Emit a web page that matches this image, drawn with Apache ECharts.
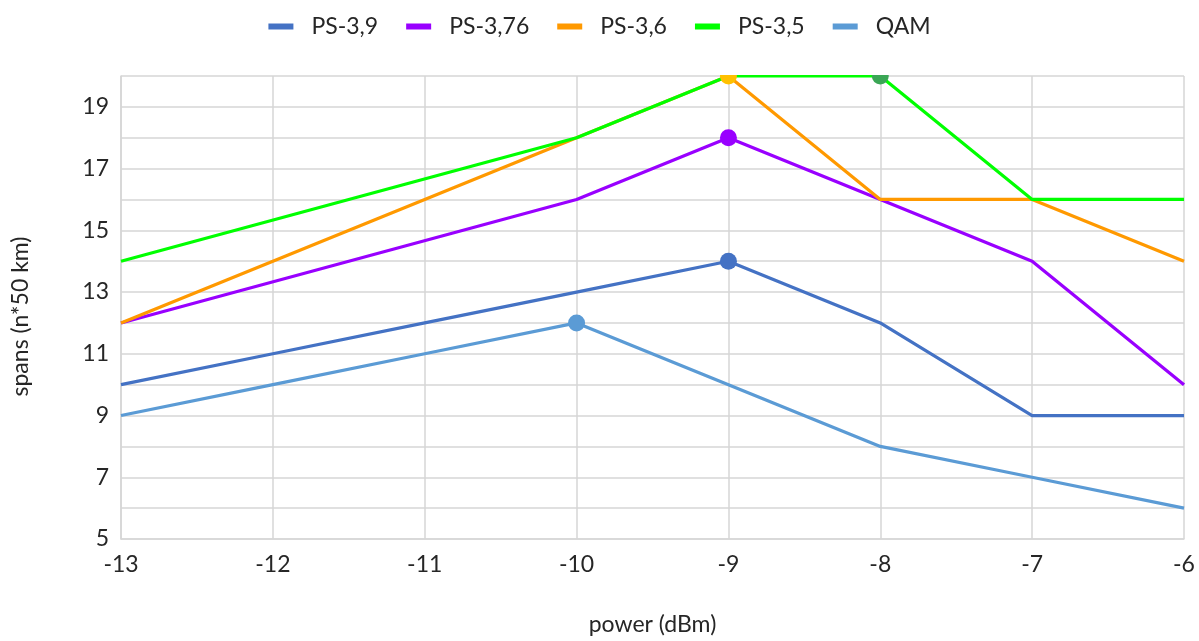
<!DOCTYPE html>
<html>
<head>
<meta charset="utf-8">
<script src="https://cdn.jsdelivr.net/npm/echarts@6/dist/echarts.min.js"></script>
<style>
  html, body { margin: 0; padding: 0; background: #ffffff; }
  #chart { width: 1199px; height: 641px; }
</style>
</head>
<body>
<div id="chart"></div>
<script>
// Launch power levels (dBm) on the x axis
const powerLevels = ['-13', '-12', '-11', '-10', '-9', '-8', '-7', '-6'];

// Reach in spans (n*50 km); null = no measurement at that power
const ps39  = [10, 11, 12, 13, 14, 12, 9, 9];
const ps376 = [12, null, null, 16, 18, 16, 14, 10];
const ps36  = [12, 14, 16, 18, 20, 16, 16, 14];
const ps35  = [14, null, null, 18, 20, 20, 16, 16];
const qam   = [9, 10, 11, 12, 10, 8, 7, 6];

const seriesNames = ['PS-3,9', 'PS-3,76', 'PS-3,6', 'PS-3,5', 'QAM'];
const seriesValues = [ps39, ps376, ps36, ps35, qam];
const lineColors = ['#4472C4', '#9900FF', '#FF9900', '#00FF00', '#5B9BD5'];
// highlighted optimum point of each format
const peakIndex = [4, 4, 4, 5, 3];
const peakColors = ['#4472C4', '#9900FF', '#FFC000', '#3AA655', '#5B9BD5'];

// y tick labels shown (gridlines every 1 span)
const yLabels = [5, 7, 9, 11, 13, 15, 17, 19];

const FONT = 'Lato, "Liberation Sans", sans-serif';
const FS = 23;
const TEXT = '#262626';
const GRID = '#d6d6d6';

const chart = echarts.init(document.getElementById('chart'));

const series = seriesNames.map((name, i) => ({
  name: name,
  type: 'line',
  data: seriesValues[i],
  connectNulls: true,
  symbol: 'none',
  lineStyle: { color: lineColors[i], width: 3.2 },
  itemStyle: { color: lineColors[i] },
  emphasis: { disabled: true },
  markPoint: {
    symbol: 'circle',
    symbolSize: 17,
    silent: true,
    label: { show: false },
    itemStyle: { color: peakColors[i] },
    data: [{ coord: [powerLevels[peakIndex[i]], seriesValues[i][peakIndex[i]]] }]
  }
}));

chart.setOption({
  animation: false,
  textStyle: { fontFamily: FONT },
  legend: {
    top: 10,
    left: 'center',
    itemWidth: 25,
    itemHeight: 6,
    itemGap: 28,
    icon: 'rect',
    textStyle: { fontSize: FS, color: TEXT, fontFamily: FONT, padding: [0, 0, 0, 13] },
    data: seriesNames
  },
  grid: { left: 121, right: 15, top: 76, bottom: 99, containLabel: false },
  xAxis: {
    type: 'category',
    data: powerLevels,
    boundaryGap: false,
    name: 'power (dBm)',
    nameLocation: 'middle',
    nameGap: 74,
    nameTextStyle: { fontSize: FS, color: TEXT, fontFamily: FONT },
    axisLine: { show: true, lineStyle: { color: GRID, width: 1.5 } },
    axisTick: { show: false },
    axisLabel: { fontSize: FS, color: TEXT, fontFamily: FONT, margin: 14 },
    splitLine: { show: true, lineStyle: { color: GRID, width: 1.5 } }
  },
  yAxis: {
    type: 'value',
    min: 5,
    max: 20,
    interval: 1,
    name: 'spans (n*50 km)',
    nameLocation: 'middle',
    nameGap: 89,
    nameTextStyle: { fontSize: FS, color: TEXT, fontFamily: FONT, padding: [0, 18, 0, 0] },
    axisLine: { show: true, lineStyle: { color: GRID, width: 1.5 } },
    axisTick: { show: false },
    axisLabel: {
      fontSize: FS, color: TEXT, fontFamily: FONT, margin: 12,
      formatter: v => (yLabels.indexOf(v) >= 0 ? String(v) : '')
    },
    splitLine: { show: true, lineStyle: { color: GRID, width: 1.5 } }
  },
  // blank band above the plot so markers on the top edge are cut at the frame
  graphic: [{
    type: 'rect',
    z: 100,
    silent: true,
    shape: { x: 100, y: 45, width: 1099, height: 30 },
    style: { fill: '#ffffff' }
  }],
  series: series
});
</script>
</body>
</html>
